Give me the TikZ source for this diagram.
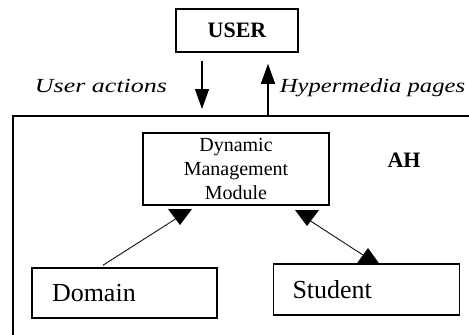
\documentclass[tikz,border=0pt]{standalone}
\usepackage{fontspec}
\usepackage{graphicx}
\setmainfont{Liberation Serif}
\usetikzlibrary{arrows.meta}
\begin{document}
\begin{tikzpicture}[x=1pt,y=-1pt,
  box/.style={draw, line width=1.5pt, inner sep=0pt},
  bigarrow/.style={line width=1.2pt, -{Triangle[length=20pt,width=14pt]}},
  link/.style={line width=0.9pt, densely dotted, dash pattern=on 1.5pt off 0.4pt},
  headfill/.style={fill=black}]
\useasboundingbox[fill=white] (0,0) rectangle (469,335);

\node[box, minimum width=122pt, minimum height=43pt,
      font=\fontsize{22}{26}\selectfont\bfseries] (user) at (237,30.5) {USER};

\draw[line width=1.5pt] (480,116) -- (13,116) -- (13,345);
\coordinate (ua) at (202,116);
\coordinate (hp) at (268,116);

\draw[bigarrow, shorten <=8pt, shorten >=7pt] (user.south -| ua) -- (ua);
\draw[bigarrow, shorten >=11pt] (hp) -- (user.south -| hp);

\node[anchor=base, font=\fontsize{20}{24}\selectfont\itshape] (ualabel) at (101,92) {\scalebox{1.3}[1]{User actions}};
\node[anchor=base, font=\fontsize{20}{24}\selectfont\itshape] (hplabel) at (372.5,92) {\scalebox{1.23}[1]{Hypermedia pages}};

\node[box, minimum width=186pt, minimum height=72pt, align=center,
      font=\fontsize{20}{24}\selectfont] (dmm) at (236,169) {Dynamic\\Management\\Module};

\node[anchor=base, font=\fontsize{22}{26}\selectfont\bfseries] (ah) at (404,167) {AH};

\node[box, minimum width=185pt, minimum height=50pt, text width=145pt, inner xsep=20pt,
      align=left, font=\fontsize{26}{30}\selectfont] (domain) at (124.5,293) {Domain};
\node[box, minimum width=186pt, minimum height=51pt, text width=148pt, inner xsep=19pt,
      align=left, font=\fontsize{26}{30}\selectfont] (student) at (366.5,289.5) {Student};

% arrow heads (drawn upright as in the reference)
\coordinate (h1) at (180,225);
\coordinate (h2) at (307,226);
\coordinate (h3) at (368,248);
\fill[headfill] (h1) -- ++(-12,-16) -- ++(24,0) -- cycle;
\fill[headfill] (h2) -- ++(-12,-16) -- ++(24,0) -- cycle;
\fill[headfill] (h3) -- ++(-11.5,16) -- ++(23,0) -- cycle;

\coordinate (l1) at (175.5,219);
\coordinate (l2a) at (310.5,221);
\coordinate (l2b) at (363,255);
\draw[link] ([xshift=-21.5pt,yshift=2pt]domain.north) -- (l1);
\draw[link] (l2a) -- (l2b);
\end{tikzpicture}
\end{document}
